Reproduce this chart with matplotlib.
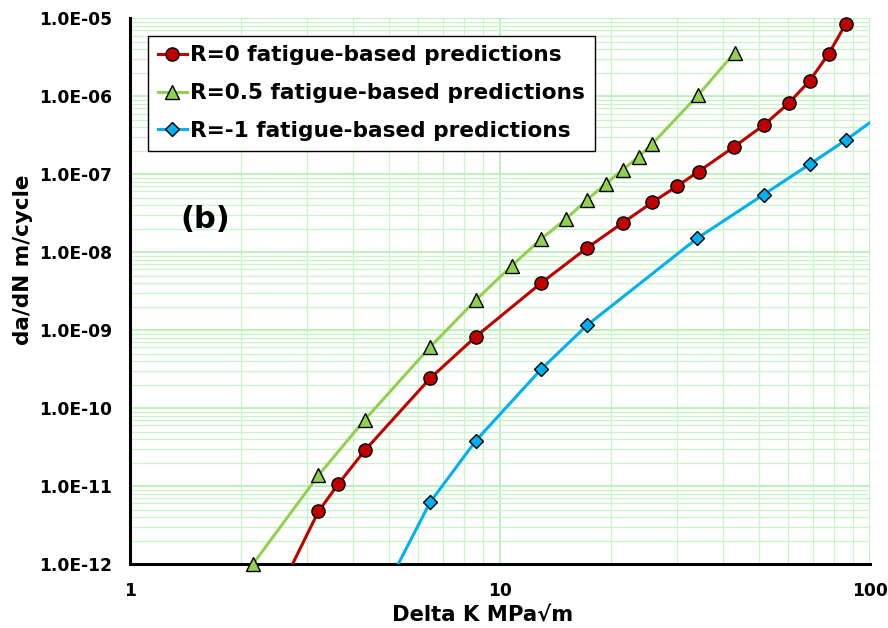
import matplotlib.pyplot as plt
from matplotlib.ticker import FixedLocator, FuncFormatter, LogLocator, NullFormatter

plt.rcParams['font.family'] = ['DejaVu Sans']
plt.rcParams['font.weight'] = 'bold'

# Delta K (MPa sqrt m) and da/dN (m/cycle)
r0_dk = [3.23, 3.66, 4.31, 6.47, 8.61, 12.91, 17.18, 21.5, 25.8, 30.1,
         34.4, 43.0, 51.6, 60.3, 68.7, 77.3, 86.0]
r0_dadn = [4.72e-12, 1.07e-11, 2.86e-11, 2.40e-10, 8.28e-10, 4.01e-9,
           1.13e-8, 2.39e-8, 4.35e-8, 7.02e-8, 1.08e-7, 2.26e-7, 4.25e-7,
           8.13e-7, 1.58e-6, 3.49e-6, 8.45e-6]
r0_start = (2.75, 1.0e-12)

r05_dk = [2.15, 3.23, 4.31, 6.47, 8.61, 10.75, 12.91, 15.08, 17.18, 19.31,
          21.46, 23.71, 25.8, 34.36, 43.09]
r05_dadn = [1.0e-12, 1.37e-11, 7.08e-11, 6.05e-10, 2.44e-9, 6.67e-9,
            1.47e-8, 2.67e-8, 4.69e-8, 7.51e-8, 1.14e-7, 1.68e-7, 2.45e-7,
            1.04e-6, 3.62e-6]

rm1_dk = [6.47, 8.61, 12.93, 17.18, 34.14, 51.6, 68.7, 86.1]
rm1_dadn = [6.17e-12, 3.83e-11, 3.16e-10, 1.15e-9, 1.51e-8, 5.48e-8,
            1.34e-7, 2.75e-7]
rm1_start = (5.31, 1.0e-12)
rm1_end = (100.0, 4.59e-7)

ytick_vals = [1e-12, 1e-11, 1e-10, 1e-9, 1e-8, 1e-7, 1e-6, 1e-5]
xtick_vals = [1, 10, 100]

fig = plt.figure(figsize=(8.88, 6.28), dpi=100)
ax = fig.add_axes([0.1464, 0.1019, 0.8333, 0.869])

red, green, blue = '#c00000', '#92d050', '#00b0f0'

# lines (some run past the first / last marker)
ax.plot([r0_start[0]] + r0_dk, [r0_start[1]] + r0_dadn, color=red, lw=2.2, zorder=3)
ax.plot(r05_dk, r05_dadn, color=green, lw=2.2, zorder=3)
ax.plot([rm1_start[0]] + rm1_dk + [rm1_end[0]],
        [rm1_start[1]] + rm1_dadn + [rm1_end[1]], color=blue, lw=2.2, zorder=3)

# markers
ax.plot(r0_dk, r0_dadn, 'o', ms=9.5, mfc=red, mec='black', mew=1, clip_on=False, zorder=4)
ax.plot(r05_dk, r05_dadn, '^', ms=10, mfc=green, mec='black', mew=1, clip_on=False, zorder=4)
ax.plot(rm1_dk, rm1_dadn, 'D', ms=7.5, mfc=blue, mec='black', mew=1, clip_on=False, zorder=4)

# legend proxies
h0, = ax.plot([], [], '-o', color=red, lw=2.2, ms=9.5, mfc=red, mec='black', mew=1)
h1, = ax.plot([], [], '-^', color=green, lw=2.2, ms=10, mfc=green, mec='black', mew=1)
h2, = ax.plot([], [], '-D', color=blue, lw=2.2, ms=7.5, mfc=blue, mec='black', mew=1)
leg = ax.legend([h0, h1, h2],
                ['R=0 fatigue-based predictions',
                 'R=0.5 fatigue-based predictions',
                 'R=-1 fatigue-based predictions'],
                loc='upper left', bbox_to_anchor=(0.024, 0.968),
                prop={'size': 15.6, 'weight': 'bold'}, fancybox=False,
                edgecolor='black', framealpha=1, handlelength=1.35,
                handletextpad=0.15, labelspacing=0.82, borderpad=0.45,
                borderaxespad=0)
leg.get_frame().set_linewidth(1.0)
leg.set_zorder(5)

ax.set_xscale('log')
ax.set_yscale('log')
ax.set_xlim(1, 100)
ax.set_ylim(1e-12, 1e-5)

ax.xaxis.set_major_locator(FixedLocator(xtick_vals))
ax.xaxis.set_major_formatter(FuncFormatter(lambda v, p: f'{v:g}'))
ax.xaxis.set_minor_locator(LogLocator(base=10, subs=range(2, 10), numticks=20))
ax.xaxis.set_minor_formatter(NullFormatter())
ax.yaxis.set_major_locator(FixedLocator(ytick_vals))
ax.yaxis.set_major_formatter(FuncFormatter(lambda v, p: f'{v:.1E}'))
ax.yaxis.set_minor_locator(LogLocator(base=10, subs=range(2, 10), numticks=20))
ax.yaxis.set_minor_formatter(NullFormatter())

ax.grid(True, which='major', color='#b8f0b8', lw=1.3, zorder=0)
ax.grid(True, which='minor', color='#c8f5c8', lw=0.9, zorder=0)
ax.set_axisbelow(True)

ax.tick_params(which='both', length=0)
ax.tick_params(axis='y', pad=13, labelsize=12.3)
ax.tick_params(axis='x', pad=13, labelsize=12.3)
for lab in ax.get_xticklabels() + ax.get_yticklabels():
    lab.set_fontweight('bold')

for s in ['top', 'right']:
    ax.spines[s].set_visible(False)
for s in ['left', 'bottom']:
    ax.spines[s].set_linewidth(2.2)
    ax.spines[s].set_color('black')

ax.set_xlabel('Delta K MPa\u221am', fontsize=15.2, fontweight='bold')
ax.xaxis.set_label_coords(0.477, -0.076, transform=ax.transAxes)
ax.xaxis.label.set_va('top')
ax.set_ylabel('da/dN m/cycle', fontsize=15.5, fontweight='bold')
ax.yaxis.set_label_coords(-0.145, 0.557, transform=ax.transAxes)
ax.yaxis.label.set_va('center')

ax.text(0.102, 0.632, '(b)', transform=ax.transAxes, fontsize=22,
        fontweight='bold', ha='center', va='center')

fig.savefig('out.png', dpi=100)
